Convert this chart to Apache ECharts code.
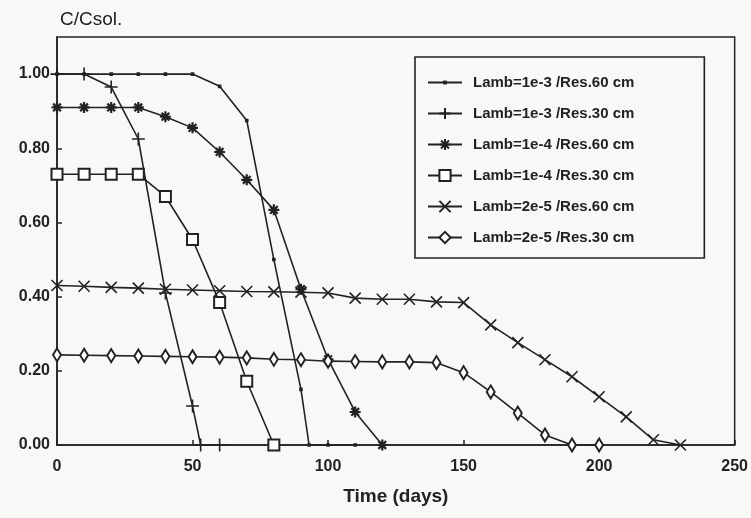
<!DOCTYPE html>
<html>
<head>
<meta charset="utf-8">
<script src="https://cdn.jsdelivr.net/npm/echarts@6/dist/echarts.min.js"></script>
<style>
  html, body { margin: 0; padding: 0; background: #f8f8f6; }
  #main { width: 751px; height: 518px; }
</style>
</head>
<body>
<div id="main"></div>
<script>
// values
const names = ['Lamb=1e-3 /Res.60 cm', 'Lamb=1e-3 /Res.30 cm', 'Lamb=1e-4 /Res.60 cm',
  'Lamb=1e-4 /Res.30 cm', 'Lamb=2e-5 /Res.60 cm', 'Lamb=2e-5 /Res.30 cm'];

const days1 = [0, 10, 20, 30, 40, 50, 60, 70, 80, 90, 93, 100, 110];
const vals1 = [1, 1, 1, 1, 1, 1, 0.967, 0.875, 0.5, 0.15, 0, 0, 0];

const days2 = [0, 10, 20, 30, 40, 50, 53, 60];
const vals2 = [1, 1, 0.965, 0.825, 0.41, 0.105, 0, 0];

const days3 = [0, 10, 20, 30, 40, 50, 60, 70, 80, 90, 100, 110, 120];
const vals3 = [0.91, 0.91, 0.91, 0.91, 0.885, 0.855, 0.79, 0.715, 0.634, 0.42, 0.231, 0.089, 0];

const days4 = [0, 10, 20, 30, 40, 50, 60, 70, 80];
const vals4 = [0.73, 0.73, 0.73, 0.73, 0.67, 0.554, 0.384, 0.172, 0];

const days5 = [0, 10, 20, 30, 40, 50, 60, 70, 80, 90, 100, 110, 120, 130, 140, 150, 160, 170, 180, 190, 200, 210, 220, 230];
const vals5 = [0.43, 0.428, 0.425, 0.423, 0.42, 0.418, 0.416, 0.414, 0.413, 0.412, 0.41, 0.396, 0.393, 0.393, 0.386, 0.384,
  0.324, 0.276, 0.23, 0.184, 0.13, 0.076, 0.014, 0];

const days6 = [0, 10, 20, 30, 40, 50, 60, 70, 80, 90, 100, 110, 120, 130, 140, 150, 160, 170, 180, 190, 200];
const vals6 = [0.243, 0.242, 0.241, 0.24, 0.239, 0.238, 0.237, 0.235, 0.231, 0.23, 0.226, 0.225, 0.224, 0.224, 0.222,
  0.195, 0.143, 0.086, 0.027, 0, 0];

const ink = '#222';
const font = 'Liberation Sans';

// marker shapes (the moveTo corners pad the small dot inside its box)
const dotSym = 'path://M0,0M12,12M5,5L7,5L7,7L5,7Z';
const plusSym = 'path://M5,0L5,10M0,5L10,5';
const starSym = 'path://M5,0L5,10M0,5L10,5M1.5,1.5L8.5,8.5M1.5,8.5L8.5,1.5';
const crossSym = 'path://M0,0L10,10M0,10L10,0';

function pairs(xs, ys) {
  return xs.map(function (x, i) { return [x, ys[i]]; });
}

function makeSeries(name, xs, ys, symbol, size, bw) {
  return {
    name: name,
    type: 'line',
    data: pairs(xs, ys),
    symbol: symbol,
    symbolSize: size,
    showAllSymbol: true,
    lineStyle: { color: ink, width: 1.6 },
    itemStyle: { color: ink, borderColor: ink, borderWidth: bw || 1.6 },
    emphasis: { disabled: true },
    z: 3
  };
}

const myChart = echarts.init(document.getElementById('main'));

const option = {
  backgroundColor: '#f8f8f6',
  animation: false,
  grid: {
    left: 57, right: 16, top: 37, bottom: 73,
    show: true, borderColor: ink, borderWidth: 1.5
  },
  legend: {
    orient: 'vertical',
    left: 415, top: 57,
    itemWidth: 34, itemHeight: 14, itemGap: 16,
    padding: [18, 70, 13, 12],
    borderColor: ink, borderWidth: 1.6,
    data: names,
    textStyle: { color: ink, fontFamily: font, fontSize: 15, fontWeight: 'bold', padding: [0, 0, 0, 6] }
  },
  xAxis: {
    type: 'value',
    min: 0, max: 250, interval: 50,
    name: 'Time (days)',
    nameLocation: 'middle',
    nameGap: 42,
    nameTextStyle: { color: ink, fontFamily: font, fontSize: 19, fontWeight: 'bold' },
    axisLine: { lineStyle: { color: ink, width: 1.5 } },
    axisTick: { inside: true, length: 5, lineStyle: { color: ink, width: 1.5 } },
    axisLabel: { color: ink, fontFamily: font, fontSize: 16, fontWeight: 'bold', margin: 14 },
    splitLine: { show: false }
  },
  yAxis: {
    type: 'value',
    min: 0, max: 1.1, interval: 0.2,
    name: 'C/Csol.',
    nameLocation: 'end',
    nameGap: 8,
    nameTextStyle: { color: ink, fontFamily: font, fontSize: 19, align: 'left', padding: [0, 0, 0, 3] },
    axisLine: { lineStyle: { color: ink, width: 1.5 } },
    axisTick: { inside: true, length: 5, lineStyle: { color: ink, width: 1.5 } },
    axisLabel: {
      color: ink, fontFamily: font, fontSize: 16, fontWeight: 'bold', margin: 7,
      showMaxLabel: false,
      formatter: function (v) { return v > 1.05 ? '' : v.toFixed(2); }
    },
    splitLine: { show: false }
  },
  series: [
    makeSeries(names[0], days1, vals1, dotSym, 12),
    makeSeries(names[1], days2, vals2, plusSym, 13),
    makeSeries(names[2], days3, vals3, starSym, 11, 2.2),
    makeSeries(names[3], days4, vals4, 'emptyRect', 11),
    makeSeries(names[4], days5, vals5, crossSym, 11),
    makeSeries(names[5], days6, vals6, 'emptyDiamond', [8, 13])
  ]
};

myChart.setOption(option);
window.addEventListener('resize', function () {
  myChart.resize();
});
</script>
</body>
</html>
